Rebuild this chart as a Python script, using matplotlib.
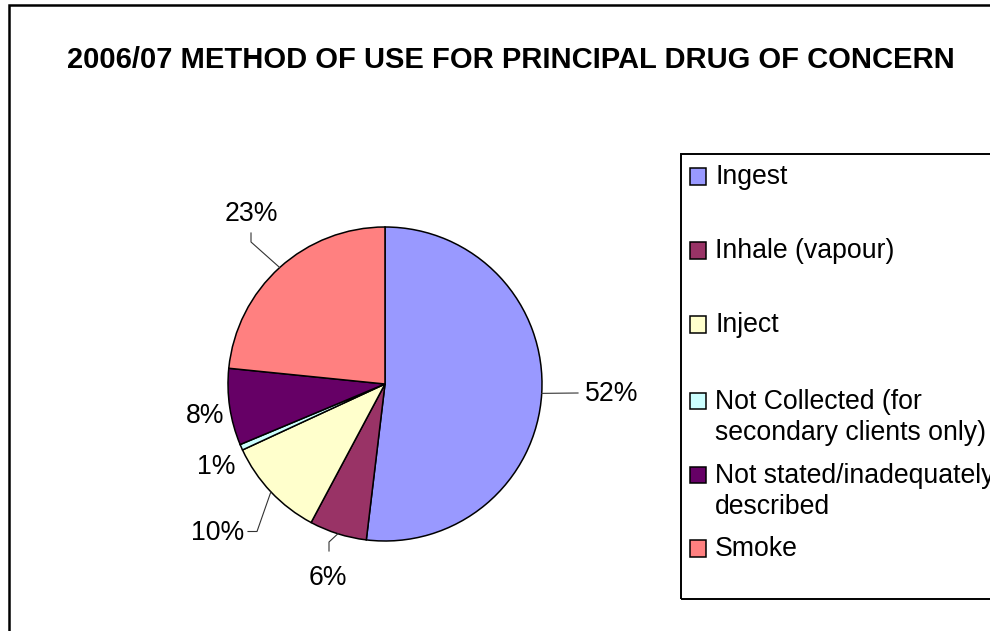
import matplotlib
matplotlib.use("Agg")
import matplotlib.pyplot as plt
from matplotlib.patches import Rectangle
import numpy as np

plt.rcParams['font.family'] = ['Liberation Sans', 'DejaVu Sans']

title = "2006/07 METHOD OF USE FOR PRINCIPAL DRUG OF CONCERN"
categories = ["Ingest", "Inhale (vapour)", "Inject",
              "Not Collected (for\nsecondary clients only)",
              "Not stated/inadequately\ndescribed", "Smoke"]
values = [51.9, 5.9, 10.3, 0.6, 7.9, 23.4]
colors = ["#9999FF", "#993366", "#FFFFCC", "#CCFFFF", "#660066", "#FF8080"]

W, H = 990, 631
fig = plt.figure(figsize=(W / 100, H / 100), dpi=100)

def fx(px):
    return px / W

def fy(py):
    return 1 - py / H

FS = 19.2

# outer frame
fig.patches.append(Rectangle((fx(8.5), fy(700)), fx(1100), fy(4.5) - fy(700),
                             transform=fig.transFigure, fill=False,
                             edgecolor="black", linewidth=1.8))

fig.text(fx(511), fy(60), title, ha="center", va="center",
         fontsize=21, fontweight="bold")

# pie axes: center (385,384) px, radius 157 px
cx, cy, R = 385, 384, 157
half = 230
ax = fig.add_axes([fx(cx - half), fy(cy + half), fx(2 * half), fy(cy - half) - fy(cy + half)])
lim = half / R
ax.set_aspect("equal")
ax.axis("off")

wedges, _ = ax.pie(values, colors=colors, startangle=90, counterclock=False,
                   radius=1.0, wedgeprops=dict(edgecolor="black", linewidth=1.1))
ax.set_xlim(-lim, lim)
ax.set_ylim(-lim, lim)

labels = ["%.0f%%" % v for v in values]

def px2d(px, py):
    return ((px - cx) / R, -(py - cy) / R)

# label positions (pixel) and leader line bends
label_pos = [(612, 394), (328, 578), (218, 533), (216, 467), (205, 416), (251, 214)]
leaders = [
    [(578, 393)],
    [(329, 542), (329, 551)],
    [(257, 531.5), (248, 531.5)],
    None,
    None,
    [(251, 242), (251, 233)],
]
for w, lab, pos, ld in zip(wedges, labels, label_pos, leaders):
    mid = np.deg2rad((w.theta1 + w.theta2) / 2)
    if ld is not None:
        pts = [(np.cos(mid), np.sin(mid))] + [px2d(*p) for p in ld]
        xs, ys = zip(*pts)
        ax.plot(xs, ys, color="#333333", linewidth=0.8, clip_on=False)
    x, y = px2d(*pos)
    ax.text(x, y, lab, ha="center", va="center", fontsize=FS)

# legend box
fig.patches.append(Rectangle((fx(680.5), fy(599)), fx(400), fy(153.5) - fy(599),
                             transform=fig.transFigure, fill=False,
                             edgecolor="black", linewidth=1.4))
legend_y = [176.5, 250.5, 324.5, 401, 475, 548.5]
line_gap = 31
sq = 16.5
for cat, col, ly in zip(categories, colors, legend_y):
    fig.patches.append(Rectangle((fx(689.5), fy(ly + sq / 2)), fx(sq), fy(ly - sq / 2) - fy(ly + sq / 2),
                                 transform=fig.transFigure, facecolor=col,
                                 edgecolor="black", linewidth=1.1))
    for i, line in enumerate(cat.split("\n")):
        fig.text(fx(715), fy(ly + 1 + i * line_gap), line, ha="left", va="center", fontsize=FS)

fig.savefig("out.png", dpi=100)
